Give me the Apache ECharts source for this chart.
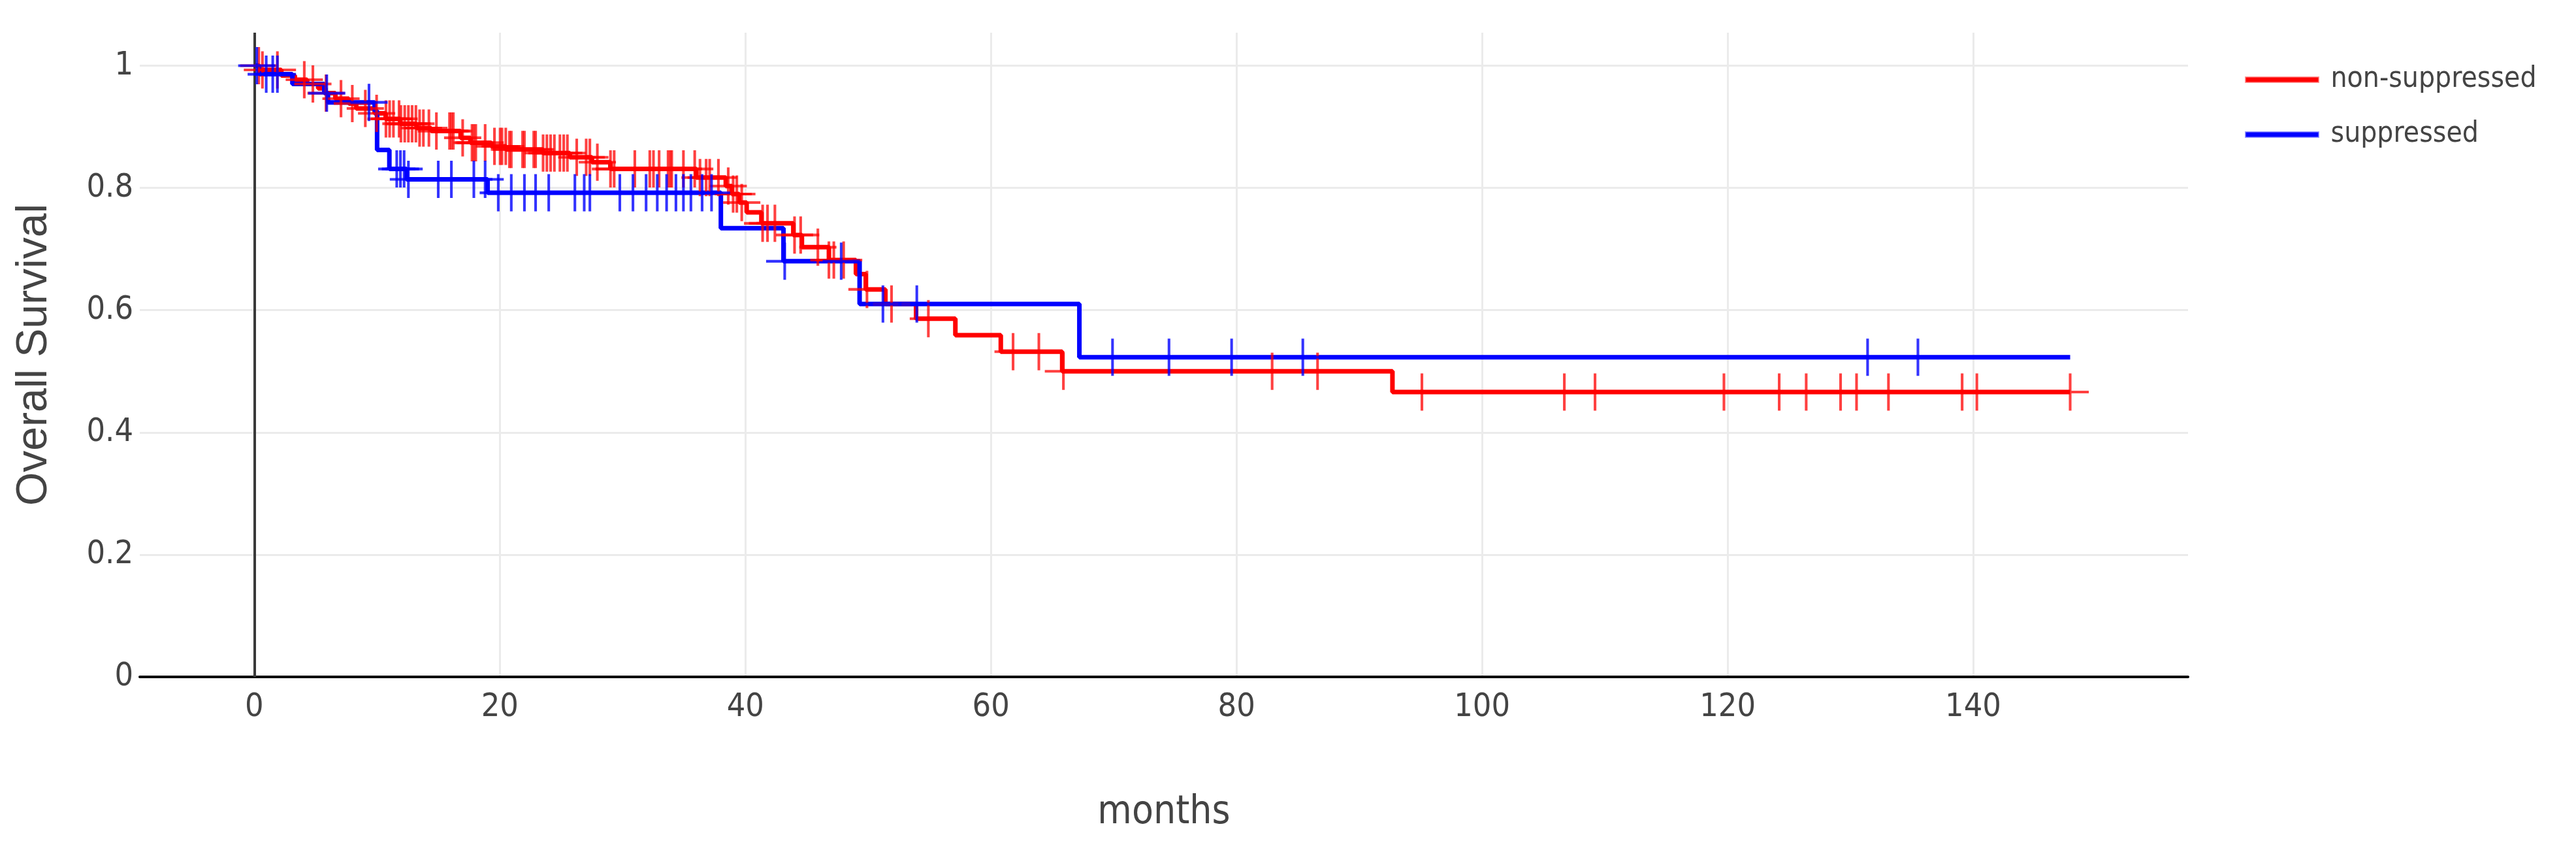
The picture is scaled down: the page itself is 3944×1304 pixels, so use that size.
<!DOCTYPE html>
<html>
<head>
<meta charset="utf-8">
<script src="https://cdn.jsdelivr.net/npm/echarts@6/dist/echarts.min.js"></script>
<style>
  html, body { margin: 0; padding: 0; background: #fff; }
  #chart { width: 3944px; height: 1304px; }
</style>
</head>
<body>
<div id="chart"></div>
<script>
// Kaplan-Meier steps: month of each drop and survival after it
const redTimes = [0, 0.4, 2.2, 3.3, 4.3, 5.2, 5.8, 6.6, 7.7, 8.3, 9.8, 10.7, 11.9, 13.2, 14.4, 16.8, 17.6, 19.3, 20.5, 23.5, 25.7, 27.5, 29.0, 36.0, 38.4, 38.9, 39.5, 40.1, 41.3, 43.9, 44.6, 46.8, 49.0, 49.8, 51.4, 53.9, 57.1, 60.8, 65.8, 92.7, 147.9];
const redSurv = [1, 0.993, 0.984, 0.977, 0.970, 0.963, 0.955, 0.946, 0.938, 0.930, 0.922, 0.913, 0.905, 0.898, 0.893, 0.882, 0.874, 0.868, 0.863, 0.857, 0.850, 0.842, 0.831, 0.817, 0.803, 0.790, 0.776, 0.760, 0.742, 0.723, 0.703, 0.682, 0.659, 0.634, 0.610, 0.586, 0.559, 0.532, 0.500, 0.466, 0.466];

const blueTimes = [0, 0.4, 3.1, 5.7, 6.0, 9.8, 10.0, 11.0, 12.4, 19.0, 38.0, 43.1, 49.3, 67.2, 147.9];
const blueSurv = [1, 0.986, 0.970, 0.955, 0.940, 0.926, 0.862, 0.831, 0.814, 0.792, 0.734, 0.680, 0.610, 0.523, 0.523];

// censored patients (the + marks): month and survival level
const redCensorTimes = [0.36, 0.66, 1.88, 4.07, 4.77, 5.84, 7.06, 7.98, 9.04, 9.96, 10.72, 11.02, 11.33, 11.79, 11.94, 12.25, 12.55, 12.85, 13.16, 13.46, 13.77, 14.22, 14.83, 15.9, 16.05, 16.21, 16.97, 17.73, 17.88, 18.04, 18.8, 19.56, 20.02, 20.17, 20.48, 20.78, 20.93, 21.85, 22.0, 22.76, 22.91, 23.52, 23.83, 24.13, 24.44, 24.89, 25.2, 25.5, 26.26, 27.03, 27.33, 27.94, 29.01, 29.31, 30.99, 32.21, 32.51, 32.97, 33.7, 33.88, 34.0, 34.95, 35.87, 36.3, 36.8, 37.09, 37.8, 38.6, 39.0, 39.3, 39.7, 41.4, 41.8, 42.4, 44.0, 44.5, 45.9, 46.8, 47.2, 48.0, 49.9, 51.9, 54.9, 61.8, 63.9, 65.9, 82.9, 86.6, 95.1, 106.7, 109.2, 119.7, 124.2, 126.4, 129.2, 130.5, 133.1, 139.1, 140.3, 147.9];
const redCensorSurv = [1.0, 0.993, 0.993, 0.977, 0.970, 0.955, 0.946, 0.938, 0.930, 0.922, 0.913, 0.913, 0.913, 0.913, 0.905, 0.905, 0.905, 0.905, 0.905, 0.898, 0.898, 0.898, 0.893, 0.893, 0.893, 0.893, 0.882, 0.874, 0.874, 0.874, 0.874, 0.868, 0.868, 0.868, 0.868, 0.863, 0.863, 0.863, 0.863, 0.863, 0.863, 0.857, 0.857, 0.857, 0.857, 0.857, 0.857, 0.857, 0.850, 0.850, 0.850, 0.842, 0.831, 0.831, 0.831, 0.831, 0.831, 0.831, 0.831, 0.831, 0.831, 0.831, 0.831, 0.817, 0.817, 0.817, 0.817, 0.803, 0.790, 0.790, 0.776, 0.742, 0.742, 0.742, 0.723, 0.723, 0.703, 0.682, 0.682, 0.682, 0.634, 0.610, 0.586, 0.532, 0.532, 0.500, 0.500, 0.500, 0.466, 0.466, 0.466, 0.466, 0.466, 0.466, 0.466, 0.466, 0.466, 0.466, 0.466, 0.466];

const blueCensorTimes = [0.2, 0.97, 1.5, 1.88, 5.9, 9.34, 11.6, 11.9, 12.2, 12.55, 14.98, 16.05, 17.88, 18.8, 19.87, 20.93, 22.0, 22.91, 23.98, 26.11, 26.87, 27.33, 29.77, 30.84, 31.91, 32.82, 33.58, 34.34, 34.95, 35.56, 36.47, 37.24, 43.2, 47.8, 51.2, 53.96, 69.9, 74.5, 79.6, 85.4, 131.4, 135.5];
const blueCensorSurv = [1.0, 0.986, 0.986, 0.986, 0.955, 0.940, 0.831, 0.831, 0.831, 0.814, 0.814, 0.814, 0.814, 0.814, 0.792, 0.792, 0.792, 0.792, 0.792, 0.792, 0.792, 0.792, 0.792, 0.792, 0.792, 0.792, 0.792, 0.792, 0.792, 0.792, 0.792, 0.792, 0.680, 0.680, 0.610, 0.610, 0.523, 0.523, 0.523, 0.523, 0.523, 0.523];

const yTicks = [0, 0.2, 0.4, 0.6, 0.8, 1];

const groups = ['non-suppressed', 'suppressed'];
const RED = '#ff0000';
const BLUE = '#0000ff';
const TEXT = '#444444';
const NARROW = "'Liberation Sans Narrow', 'DejaVu Sans Condensed', 'Liberation Sans', sans-serif";
// thin plus sign used for censor marks
const PLUS = 'path://M13,0h2v28h-2zM0,13h28v2h-28z';

function pairs(xs, ys) {
  return xs.map((x, i) => [x, ys[i]]);
}

const chart = echarts.init(document.getElementById('chart'));

chart.setOption({
  animation: false,
  backgroundColor: '#ffffff',
  grid: { left: 214, right: 594, top: 50, bottom: 268 },
  legend: {
    orient: 'vertical',
    left: 3432,
    top: 95,
    itemWidth: 111,
    itemHeight: 7,
    itemGap: 40,
    textStyle: { fontFamily: NARROW, fontSize: 44, color: TEXT, padding: [0, 0, 0, 14] },
    data: [
      { name: groups[0], icon: 'rect', itemStyle: { color: RED, borderColor: 'rgba(255,0,0,0.4)', borderWidth: 3 } },
      { name: groups[1], icon: 'rect', itemStyle: { color: BLUE, borderColor: 'rgba(0,0,255,0.4)', borderWidth: 3 } },
    ],
  },
  xAxis: {
    type: 'value',
    min: -9.33,
    max: 157.5,
    splitNumber: 8,
    name: 'months',
    nameLocation: 'middle',
    nameGap: 178,
    nameTextStyle: { fontFamily: NARROW, fontSize: 60, color: TEXT },
    axisLine: { show: true, onZero: false, lineStyle: { color: '#000', width: 4 } },
    axisTick: { show: false },
    axisLabel: {
      margin: 22,
      fontFamily: NARROW,
      fontSize: 50,
      color: TEXT,
      showMinLabel: false,
      showMaxLabel: false,
    },
    splitLine: { show: true, showMinLine: false, showMaxLine: false, lineStyle: { color: '#ebebeb', width: 3 } },
  },
  yAxis: {
    type: 'value',
    min: yTicks[0],
    max: 1.054,
    interval: 0.2,
    name: 'Overall Survival',
    nameLocation: 'middle',
    nameGap: 128,
    nameTextStyle: { fontFamily: "'Liberation Sans', Arial, sans-serif", fontSize: 66, color: TEXT },
    axisLine: { show: false },
    axisTick: { show: false },
    axisLabel: {
      margin: 10,
      fontFamily: NARROW,
      fontSize: 50,
      color: TEXT,
      showMaxLabel: false,
    },
    splitLine: { show: true, showMaxLine: false, lineStyle: { color: '#ebebeb', width: 3 } },
  },
  series: [
    {
      name: groups[0],
      type: 'line',
      step: 'end',
      showSymbol: false,
      data: pairs(redTimes, redSurv),
      lineStyle: { color: RED, width: 7 },
      itemStyle: { color: RED },
      z: 3,
      // zero line of the month axis
      markLine: {
        silent: true,
        symbol: 'none',
        label: { show: false },
        lineStyle: { color: '#3a3a3a', width: 4, type: 'solid' },
        data: [{ xAxis: 0 }],
      },
    },
    {
      name: groups[1],
      type: 'line',
      step: 'end',
      showSymbol: false,
      data: pairs(blueTimes, blueSurv),
      lineStyle: { color: BLUE, width: 7 },
      itemStyle: { color: BLUE },
      z: 4,
    },
    {
      name: groups[0],
      type: 'scatter',
      symbol: PLUS,
      symbolSize: 57,
      data: pairs(redCensorTimes, redCensorSurv),
      itemStyle: { color: RED, opacity: 0.75 },
      z: 5,
    },
    {
      name: groups[1],
      type: 'scatter',
      symbol: PLUS,
      symbolSize: 57,
      data: pairs(blueCensorTimes, blueCensorSurv),
      itemStyle: { color: BLUE, opacity: 0.8 },
      z: 6,
    },
  ],
});
</script>
</body>
</html>
